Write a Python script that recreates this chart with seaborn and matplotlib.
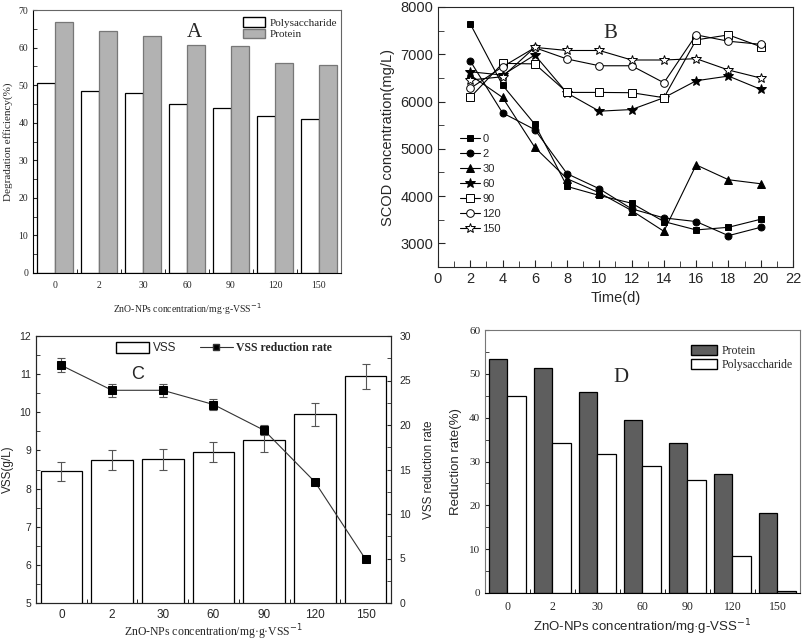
import pandas as pd
import matplotlib
matplotlib.use("Agg")
import matplotlib.pyplot as plt
import seaborn as sns
from matplotlib.patches import Patch
from matplotlib.lines import Line2D
from matplotlib.ticker import MultipleLocator, FixedLocator

# ---- data ----
conc = ["0", "2", "30", "60", "90", "120", "150"]

# A: degradation efficiency (%)
a_poly = [50.5, 48.4, 48.0, 45.1, 44.0, 41.8, 41.1]
a_prot = [66.8, 64.4, 63.1, 60.6, 60.5, 55.9, 55.4]

# B: SCOD over time (mg/L)
days = [2, 4, 6, 8, 10, 12, 14, 16, 18, 20]
b_0 = [7643, 6347, 5519, 4204, 4013, 3849, 3461, 3284, 3340, 3510]
b_2 = [6857, 5760, 5406, 4473, 4154, 3730, 3539, 3461, 3163, 3340]
b_30 = [6560, 6087, 5030, 4367, 4070, 3694, 3255, 4660, 4346, 4261]
b_60 = [6630, 6560, 6985, 6180, 5796, 5831, 6081, 6440, 6539, 6258]
b_90 = [6087, 6808, 6796, 6193, 6193, 6187, 6081, 7304, 7410, 7161]
b_120 = [6278, 6736, 7140, 6900, 6757, 6757, 6397, 7410, 7276, 7211]
b_150 = [6455, 6525, 7146, 7080, 7080, 6879, 6879, 6907, 6667, 6497]

# C: VSS and VSS reduction rate
vss = [8.45, 8.75, 8.77, 8.95, 9.28, 9.95, 10.94]
vss_err = [0.25, 0.26, 0.27, 0.26, 0.32, 0.30, 0.33]
rate = [26.7, 23.9, 23.9, 22.3, 19.4, 13.6, 4.9]
rate_err = [0.8, 0.7, 0.7, 0.65, 0.55, 0.2, 0.2]

# D: reduction rate (%)
d_prot = [53.4, 51.3, 45.9, 39.4, 34.2, 27.1, 18.3]
d_poly = [44.9, 34.2, 31.6, 29.0, 25.7, 8.5, 0.4]

SERIF = "Liberation Serif"
SANS = "Liberation Sans"

sns.set_style("ticks", {"xtick.direction": "in", "ytick.direction": "in"})
plt.rcParams["font.family"] = [SANS, "DejaVu Sans"]

W, H = 803, 640
fig = plt.figure(figsize=(W / 100, H / 100), dpi=100)


def box(l, r, t, b):
    return [l / W, 1 - b / H, (r - l) / W, (b - t) / H]


def cat_ticks(ax, color="black"):
    ax.set_xlim(-0.5, 6.5)
    ax.xaxis.set_minor_locator(FixedLocator([0.5, 1.5, 2.5, 3.5, 4.5, 5.5]))
    ax.tick_params(axis="x", which="major", length=0)
    ax.tick_params(axis="x", which="minor", length=3, color=color)


# ---------------- A ----------------
axA = fig.add_axes(box(33, 341, 10, 273))
dfA = pd.DataFrame({"conc": conc * 2,
                    "series": ["Polysaccharide"] * 7 + ["Protein"] * 7,
                    "value": a_poly + a_prot})
sns.barplot(data=dfA, x="conc", y="value", hue="series", order=conc,
            hue_order=["Polysaccharide", "Protein"],
            palette={"Polysaccharide": "white", "Protein": "#b2b2b2"},
            errorbar=None, width=0.8, saturation=1, legend=False, ax=axA)
for i, p in enumerate(axA.patches):
    p.set_edgecolor("black" if i < 7 else "#777777")
    p.set_linewidth(0.9)
axA.set_ylim(0, 70)
axA.yaxis.set_major_locator(MultipleLocator(10))
axA.yaxis.set_minor_locator(MultipleLocator(5))
cat_ticks(axA)
for s in axA.spines.values():
    s.set_color("#666666")
axA.spines["left"].set_color("black")
axA.spines["bottom"].set_color("black")
axA.tick_params(axis="y", which="both", labelsize=7, length=3)
axA.tick_params(axis="x", labelsize=7, pad=6)
for lab in axA.get_xticklabels() + axA.get_yticklabels():
    lab.set_fontfamily(SERIF)
axA.set_xlabel("ZnO-NPs concentration/mg·g-VSS$^{-1}$", fontsize=7,
               fontfamily=SERIF, labelpad=8)
axA.set_ylabel("Degradation efficiency(%)", fontsize=8, fontfamily=SERIF)
axA.legend(handles=[Patch(facecolor="white", edgecolor="black"),
                    Patch(facecolor="#b2b2b2", edgecolor="#777777")],
           labels=["Polysaccharide", "Protein"], loc="upper right",
           bbox_to_anchor=(1.02, 1.01), frameon=False,
           prop={"family": SERIF, "size": 8}, handlelength=2.0,
           handleheight=0.9, labelspacing=0.1, handletextpad=0.4)
axA.text(0.525, 0.915, "A", transform=axA.transAxes, fontsize=15,
         fontfamily=SERIF, ha="center", va="center")

# ---------------- B ----------------
axB = fig.add_axes(box(438, 793, 7, 267))
series_b = [("0", b_0, "s", "black", 5), ("2", b_2, "o", "black", 5),
            ("30", b_30, "^", "black", 5.5), ("60", b_60, "*", "black", 7),
            ("90", b_90, "s", "white", 5.5), ("120", b_120, "o", "white", 5.5),
            ("150", b_150, "*", "white", 7.5)]
for lab, vals, m, fc, ms in series_b:
    sns.lineplot(x=days, y=vals, ax=axB, color="black", linewidth=0.8,
                 marker=m, markerfacecolor=fc, markeredgecolor="black",
                 markeredgewidth=0.7, markersize=ms, label=lab)
axB.set_xlim(0, 22)
axB.set_ylim(2500, 8000)
axB.xaxis.set_major_locator(MultipleLocator(2))
axB.xaxis.set_minor_locator(MultipleLocator(1))
axB.yaxis.set_major_locator(FixedLocator([3000, 4000, 5000, 6000, 7000, 8000]))
axB.yaxis.set_minor_locator(MultipleLocator(500))
axB.tick_params(axis="both", which="major", labelsize=10.5, length=5)
axB.tick_params(axis="both", which="minor", length=4)
axB.set_xlabel("Time(d)", fontsize=10.5)
axB.set_ylabel("SCOD concentration(mg/L)", fontsize=10.5)
axB.legend(loc="upper left", bbox_to_anchor=(0.05, 0.53), frameon=False,
           fontsize=8, handlelength=1.8, labelspacing=0.45,
           handletextpad=0.2, borderaxespad=0)
axB.text(0.485, 0.9, "B", transform=axB.transAxes, fontsize=15,
         fontfamily=SERIF, ha="center", va="center")

# ---------------- C ----------------
axC = fig.add_axes(box(36, 391, 336, 603))
sns.barplot(x=conc, y=vss, color="white", edgecolor="black", linewidth=0.9,
            width=0.82, saturation=1, errorbar=None, ax=axC)
axC.errorbar(range(7), vss, yerr=vss_err, fmt="none", ecolor="#555555",
             elinewidth=0.8, capsize=3, capthick=0.8)
axC.set_ylim(5, 12)
axC.yaxis.set_major_locator(MultipleLocator(1))
axC.yaxis.set_minor_locator(MultipleLocator(0.5))
axC.tick_params(axis="y", which="both", labelsize=7.5, length=3)
axC.tick_params(axis="x", labelsize=8.5, pad=4)
axC.set_ylabel("VSS(g/L)", fontsize=8.5, labelpad=4)
axC.set_xlabel("ZnO-NPs concentration/mg·g·VSS$^{-1}$", fontsize=8.5,
               fontfamily=SERIF, labelpad=1)
ax2 = axC.twinx()
ax2.errorbar(range(7), rate, yerr=rate_err, fmt="none", ecolor="#555555",
             elinewidth=0.8, capsize=3, capthick=0.8, zorder=1)
sns.lineplot(x=list(range(7)), y=rate, ax=ax2, color="#333333",
             linewidth=0.8, marker="s", markerfacecolor="black",
             markeredgecolor="black", markersize=5.5, zorder=3)
ax2.set_ylim(0, 30)
ax2.yaxis.set_major_locator(MultipleLocator(5))
ax2.yaxis.set_minor_locator(MultipleLocator(2.5))
ax2.tick_params(axis="y", which="both", labelsize=7.5, length=3, pad=6)
ax2.set_ylabel("VSS reduction rate", fontsize=8.5, labelpad=9)
cat_ticks(axC)
ax2.set_xlim(-0.5, 6.5)
legC = ax2.legend(handles=[Patch(facecolor="white", edgecolor="black"),
                           Line2D([], [], color="#333333", lw=0.8, marker="s",
                                  markerfacecolor="black", markersize=5)],
                  labels=["VSS", "VSS reduction rate"], ncol=2,
                  loc="center", bbox_to_anchor=(0.53, 0.955), frameon=False,
                  fontsize=8.5, handlelength=2.8, handleheight=1.1,
                  columnspacing=2.0, handletextpad=0.3)
legC.get_texts()[1].set_fontfamily(SERIF)
legC.get_texts()[1].set_fontweight("bold")
axC.text(0.285, 0.855, "C", transform=axC.transAxes, fontsize=13,
         ha="center", va="center")

# ---------------- D ----------------
axD = fig.add_axes(box(485, 800, 330, 593))
dfD = pd.DataFrame({"conc": conc * 2,
                    "series": ["Protein"] * 7 + ["Polysaccharide"] * 7,
                    "value": d_prot + d_poly})
sns.barplot(data=dfD, x="conc", y="value", hue="series", order=conc,
            hue_order=["Protein", "Polysaccharide"],
            palette={"Protein": "#5e5e5e", "Polysaccharide": "white"},
            errorbar=None, width=0.82, saturation=1, legend=False, ax=axD)
for i, p in enumerate(axD.patches):
    p.set_edgecolor("black")
    p.set_linewidth(0.9)
axD.patches[13].set_facecolor("#999999")
axD.set_ylim(0, 60)
axD.yaxis.set_major_locator(MultipleLocator(10))
axD.yaxis.set_minor_locator(MultipleLocator(5))
cat_ticks(axD)
for s in axD.spines.values():
    s.set_color("#777777")
axD.spines["bottom"].set_color("black")
axD.tick_params(axis="y", which="both", labelsize=8, length=3)
axD.tick_params(axis="x", labelsize=8.5, pad=6)
for lab in axD.get_xticklabels() + axD.get_yticklabels():
    lab.set_fontfamily(SERIF)
axD.set_xlabel("ZnO-NPs concentration/mg·g-VSS$^{-1}$", fontsize=9.5,
               labelpad=3)
axD.set_ylabel("Reduction rate(%)", fontsize=9.5, labelpad=5)
axD.legend(handles=[Patch(facecolor="#5e5e5e", edgecolor="black"),
                    Patch(facecolor="white", edgecolor="black")],
           labels=["Protein", "Polysaccharide"], loc="upper right",
           bbox_to_anchor=(1.01, 0.985), frameon=False,
           prop={"family": SERIF, "size": 8.5}, handlelength=2.2,
           handleheight=1.0, labelspacing=0.15, handletextpad=0.4)
axD.text(0.43, 0.82, "D", transform=axD.transAxes, fontsize=15,
         fontfamily=SERIF, ha="center", va="center")

fig.savefig("out.png", dpi=100)
plt.close(fig)
